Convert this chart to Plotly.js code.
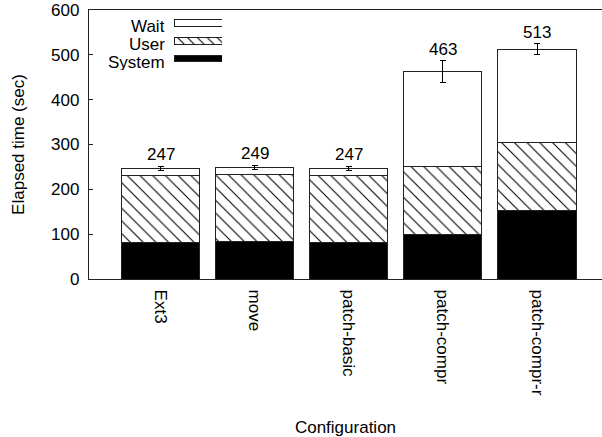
<!DOCTYPE html>
<html>
<head>
<meta charset="utf-8">
<script src="https://cdn.plot.ly/plotly-3.0.1.min.js"></script>
<style>html,body{margin:0;padding:0;background:#fff;}#chart{width:602px;height:437px;}</style>
</head>
<body>
<div id="chart"></div>
<script>
const categories = ["Ext3", "move", "patch-basic", "patch-compr", "patch-compr-r"];
const systemTime = [82, 84, 82, 99, 153];
const userTime = [149, 150, 149, 152, 151];
const totalTime = [247, 249, 247, 463, 513];
const totalErr = [5, 5, 5, 24, 12];
const legendNames = ["System", "User", "Wait"];

const waitTime = totalTime.map((t, i) => t - systemTime[i] - userTime[i]);
const FONT = "'Liberation Sans', Arial, Helvetica, sans-serif";
const outline = {color: "#222", width: 1};
const userPattern = {shape: "\\", fgcolor: "#000", bgcolor: "#fff", size: 9, solidity: 0.12};

const traces = [
  {type: "bar", x: categories, y: systemTime, name: "System",
   marker: {color: "#000", line: outline}, width: 0.83, hoverinfo: "none"},
  {type: "bar", x: categories, y: userTime, name: "User",
   marker: {color: "#fff", line: outline, pattern: userPattern},
   width: 0.83, hoverinfo: "none"},
  {type: "bar", x: categories, y: waitTime, name: "Wait",
   marker: {color: "#fff", line: outline}, width: 0.83, hoverinfo: "none",
   error_y: {type: "data", array: totalErr, visible: true, color: "#000", thickness: 1, width: 3}},
  // legend swatches drawn on an invisible overlay axis
  {type: "bar", orientation: "h", x: [1], y: [legendNames[0]], base: 0, xaxis: "x2", yaxis: "y2",
   width: 0.38, hoverinfo: "none", marker: {color: "#000", line: outline}},
  {type: "bar", orientation: "h", x: [1], y: [legendNames[1]], base: 0, xaxis: "x2", yaxis: "y2",
   width: 0.38, hoverinfo: "none",
   marker: {color: "#fff", line: outline, pattern: {shape: "\\", fgcolor: "#000", bgcolor: "#fff", size: 7, solidity: 0.15}}},
  {type: "bar", orientation: "h", x: [1], y: [legendNames[2]], base: 0, xaxis: "x2", yaxis: "y2",
   width: 0.38, hoverinfo: "none", marker: {color: "#fff", line: outline}}
];

const annotations = categories.map((c, i) => ({
  x: c, y: totalTime[i] + totalErr[i], xref: "x", yref: "y",
  text: String(totalTime[i]), showarrow: false, yanchor: "bottom", yshift: 0,
  font: {family: FONT, size: 17, color: "#000"}
}));
legendNames.forEach(n => annotations.push({
  x: 0.152, xref: "paper", xanchor: "right", y: n, yref: "y2", yanchor: "middle", yshift: -3,
  height: 16, text: n, showarrow: false, font: {family: FONT, size: 17, color: "#000"}
}));

const layout = {
  width: 602, height: 437,
  margin: {l: 89, r: 0, t: 10, b: 158},
  barmode: "stack",
  showlegend: false,
  paper_bgcolor: "#fff", plot_bgcolor: "#fff",
  font: {family: FONT, size: 17, color: "#000"},
  xaxis: {
    range: [-0.76, 4.69], tickangle: 90, ticks: "", showgrid: false, zeroline: false,
    showline: true, linecolor: "#222", linewidth: 1.2, mirror: true, ticklabelstandoff: 6,
    tickfont: {family: FONT, size: 17, color: "#000"},
    title: {text: "Configuration", font: {family: FONT, size: 17, color: "#000"}, standoff: 26}
  },
  yaxis: {
    range: [0, 600], dtick: 100, ticks: "inside", ticklen: 4, tickcolor: "#222",
    showgrid: false, zeroline: false, showline: true, linecolor: "#222", linewidth: 1.2,
    ticklabelstandoff: 5,
    tickfont: {family: FONT, size: 17, color: "#000"},
    title: {text: "Elapsed time (sec)", font: {family: FONT, size: 17, color: "#000"}, standoff: 22}
  },
  xaxis2: {domain: [0.1657, 0.2593], range: [0, 1], visible: false, anchor: "y2", fixedrange: true},
  yaxis2: {domain: [0.7867, 0.9844], range: [-0.5, 2.5], visible: false, anchor: "x2", fixedrange: true,
           type: "category", categoryorder: "array", categoryarray: legendNames},
  annotations: annotations
};

Plotly.newPlot("chart", traces, layout, {displayModeBar: false, staticPlot: true});
</script>
</body>
</html>
